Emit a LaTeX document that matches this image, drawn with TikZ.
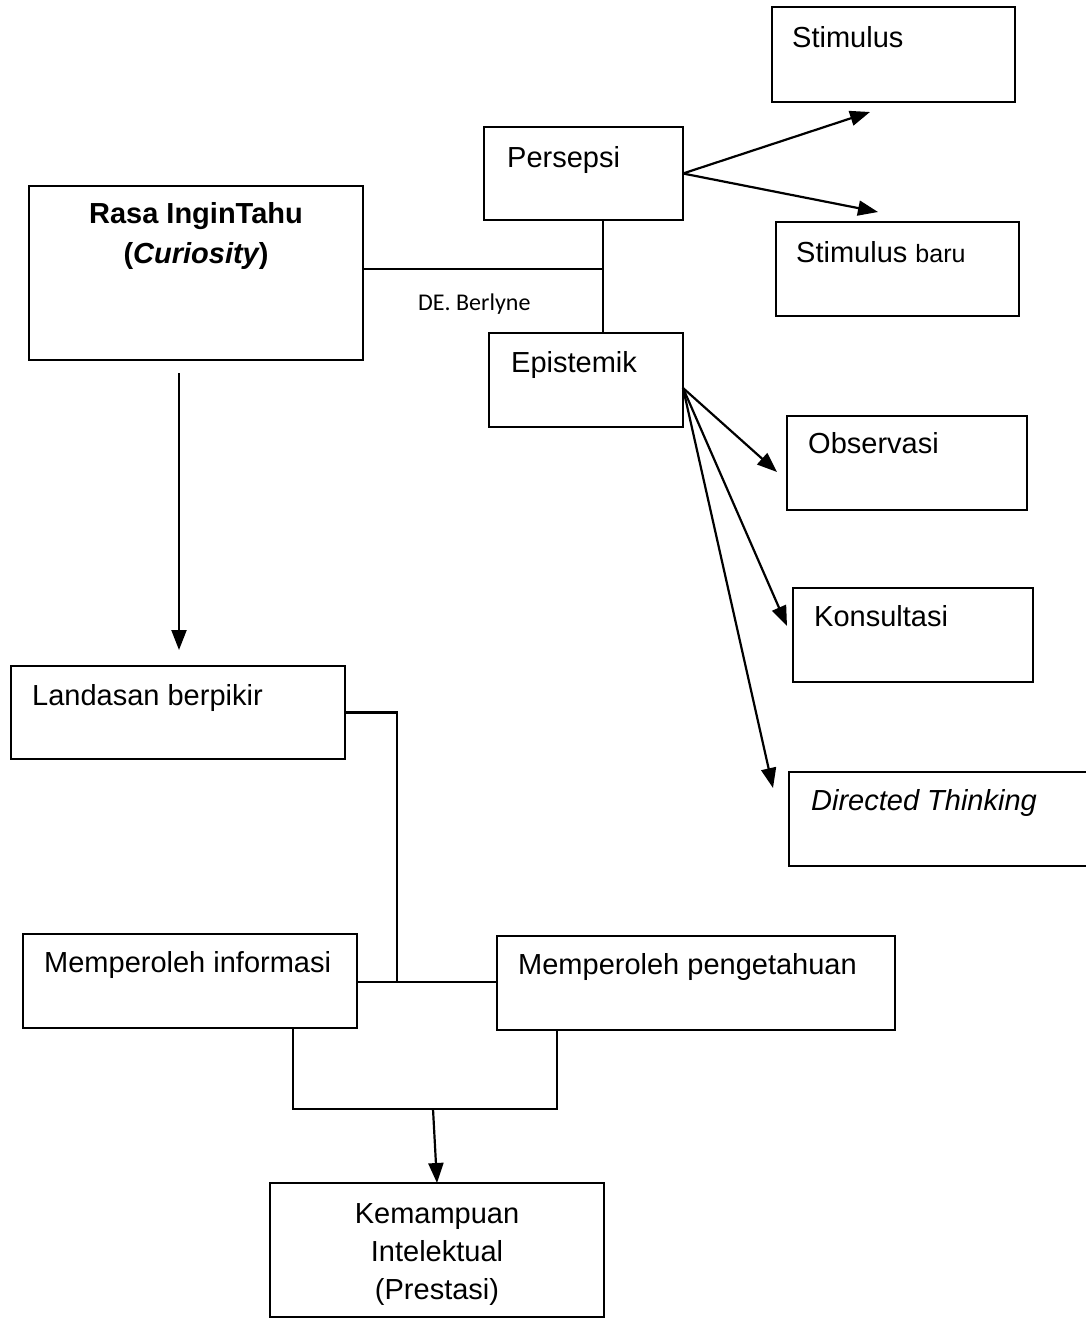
\documentclass[tikz,border=0pt]{standalone}
\usepackage{fontspec}
\setmainfont{Liberation Sans}
\newfontfamily\calib{Carlito}
\usetikzlibrary{arrows.meta,calc}
\begin{document}
\begin{tikzpicture}[x=1pt,y=-1pt,
  box/.style={draw,line width=2.2pt,inner sep=0pt,outer sep=0pt,rectangle},
  lbl/.style={anchor=base west,inner sep=0pt,font=\fontsize{29}{36}\selectfont},
  clbl/.style={anchor=base,inner sep=0pt,font=\fontsize{29}{36}\selectfont},
  con/.style={line width=2.2pt},
  arr/.style={line width=2.2pt,-{Triangle[length=20pt,width=15pt]}},
]
\useasboundingbox[fill=white] (0,0) rectangle (1086,1322);

% boxes
\node[box,minimum width=243pt,minimum height=95pt] (stim)  at (893.5,54.5) {};
\node[box,minimum width=199pt,minimum height=93pt] (pers)  at (583.5,173.5) {};
\node[box,minimum width=243pt,minimum height=94pt] (stimb) at (897.5,269) {};
\node[box,minimum width=334pt,minimum height=174pt] (rasa) at (196,273) {};
\node[box,minimum width=194pt,minimum height=94pt] (epis)  at (586,380) {};
\node[box,minimum width=240pt,minimum height=94pt] (obs)   at (907,463) {};
\node[box,minimum width=240pt,minimum height=94pt] (kons)  at (913,635) {};
\node[box,minimum width=311pt,minimum height=94pt] (dt)    at (944.5,819) {};
\node[box,minimum width=334pt,minimum height=93pt] (land)  at (178,712.5) {};
\node[box,minimum width=334pt,minimum height=94pt] (mi)    at (190,981) {};
\node[box,minimum width=398pt,minimum height=94pt] (mp)    at (696,983) {};
\node[box,minimum width=334pt,minimum height=134pt] (kem)  at (437,1250) {};

% texts
\node[lbl] (tstim)  at (792,48)  {Stimulus};
\node[lbl] (tpers)  at (507,167) {Persepsi};
\node[lbl] (tstimb) at (796,262) {Stimulus {\fontsize{25}{30}\selectfont baru}};
\node[lbl] (tepis)  at (511,372) {Epistemik};
\node[lbl] (tobs)   at (808,453) {Observasi};
\node[lbl] (tkons)  at (814,626) {Konsultasi};
\node[lbl] (tdt)    at (811,810) {\itshape Directed Thinking};
\node[lbl] (tland)  at (32,705)  {Landasan berpikir};
\node[lbl] (tmi)    at (44,972)  {Memperoleh informasi};
\node[lbl] (tmp)    at (518,974) {Memperoleh pengetahuan};
\node[clbl] (trasa1) at (196,223) {\bfseries Rasa InginTahu};
\node[clbl] (trasa2) at (196,263) {\bfseries (\itshape Curiosity\upshape)};
\node[clbl] (tkem1) at (437,1223) {Kemampuan};
\node[clbl] (tkem2) at (437,1261) {Intelektual};
\node[clbl] (tkem3) at (437,1299) {(Prestasi)};
\node[anchor=base west,inner sep=0pt,font=\calib\fontsize{24}{28}\selectfont] (berl) at (418,310) {DE. Berlyne};

% junctions and free ends
\coordinate (j1) at (603,269);
\coordinate (ps1) at (870,112);
\coordinate (ps2) at (878,212);
\coordinate (eo) at (683,388);
\coordinate (e1) at (777,472);
\coordinate (e2) at (787,626);
\coordinate (e3) at (773,788);
\coordinate (ra) at (179,373);
\coordinate (rb) at (179,650);
\coordinate (lj) at (397,712.5);
\coordinate (bj) at (433,1109);

% connectors
\draw[con] (rasa.east |- j1) -- (j1);
\draw[con] (pers.south -| j1) -- (epis.north -| j1);
\draw[arr] (pers.east) -- (ps1);
\draw[arr] (pers.east) -- (ps2);
\draw[arr] (eo) -- (e1);
\draw[arr] (eo) -- (e2);
\draw[arr] (eo) -- (e3);
\draw[arr] (ra) -- (rb);
\draw[con] (land.east) -- (lj) -- (lj |- 0,982);
\draw[con] (mi.east |- 0,982) -- (mp.west |- 0,982);
\draw[con] (mi.south -| 293,0) -- (293,1109) -- (557,1109) -- (mp.south -| 557,0);
\draw[arr] (bj) -- (kem.north);
\end{tikzpicture}
\end{document}
